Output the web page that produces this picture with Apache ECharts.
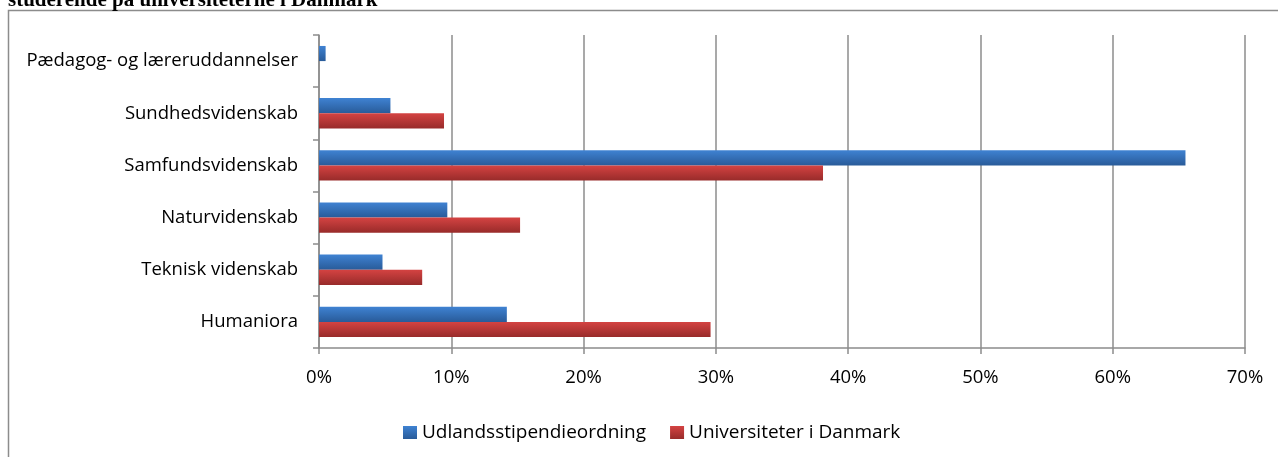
<!DOCTYPE html>
<html>
<head>
<meta charset="utf-8">
<script src="https://cdn.jsdelivr.net/npm/echarts@6/dist/echarts.min.js"></script>
<style>
  html, body { margin: 0; padding: 0; background: #fff; }
  #chart { width: 1278px; height: 457px; }
</style>
</head>
<body>
<div id="chart"></div>
<script>
// bottom-to-top order, like the reference
const categories = [
  "Humaniora",
  "Teknisk videnskab",
  "Naturvidenskab",
  "Samfundsvidenskab",
  "Sundhedsvidenskab",
  "Pædagog- og læreruddannelser"
];
const udland = [14.2, 4.8, 9.7, 65.5, 5.4, 0.5];
const danmark = [29.6, 7.8, 15.2, 38.1, 9.45, 0];
const xTicks = [0, 10, 20, 30, 40, 50, 60, 70];

const blueFill = new echarts.graphic.LinearGradient(0, 0, 0, 1, [
  { offset: 0, color: "#3f82d2" },
  { offset: 1, color: "#295b99" }
]);
const redFill = new echarts.graphic.LinearGradient(0, 0, 0, 1, [
  { offset: 0, color: "#d44342" },
  { offset: 1, color: "#982b2a" }
]);

const font = "Open Sans";
const fontSize = 18.5;
const gray = "#8c8c8c";

const chart = echarts.init(document.getElementById("chart"));
chart.setOption({
  animation: false,
  graphic: {
    elements: [
      {
        type: "rect",
        silent: true,
        shape: { x: 8.5, y: 10.5, width: 1400, height: 600 },
        style: { fill: "none", stroke: gray, lineWidth: 1.5 }
      },
      {
        type: "text",
        silent: true,
        style: {
          x: 8,
          y: 1,
          text: "studerende på universiteterne i Danmark",
          font: "bold 21px 'Liberation Serif'",
          fill: "#000",
          textVerticalAlign: "middle"
        }
      }
    ]
  },
  grid: { left: 319, right: 33, top: 35, bottom: 109 },
  legend: {
    data: ["Udlandsstipendieordning", "Universiteter i Danmark"],
    left: 398,
    top: 418,
    icon: "rect",
    itemWidth: 14,
    itemHeight: 13,
    itemGap: 24,
    textStyle: { fontFamily: font, fontSize: 19, color: "#000" }
  },
  xAxis: {
    type: "value",
    min: xTicks[0],
    max: xTicks[xTicks.length - 1],
    interval: 10,
    axisLine: { show: true, lineStyle: { color: gray, width: 1.5 } },
    axisTick: { show: true, length: 6, lineStyle: { color: gray, width: 1.5 } },
    splitLine: { show: true, lineStyle: { color: gray, width: 1.5 } },
    axisLabel: {
      formatter: "{value}%",
      margin: 20,
      fontFamily: font,
      fontSize: fontSize,
      color: "#000"
    }
  },
  yAxis: {
    type: "category",
    data: categories,
    axisLine: { show: true, lineStyle: { color: gray, width: 1.5 } },
    axisTick: { show: true, length: 6, lineStyle: { color: gray, width: 1.5 } },
    axisLabel: {
      margin: 21,
      padding: [4, 0, 0, 0],
      fontFamily: font,
      fontSize: fontSize,
      color: "#000"
    }
  },
  series: [
    {
      name: "Udlandsstipendieordning",
      type: "bar",
      data: udland,
      barGap: "0%",
      barCategoryGap: "42%",
      itemStyle: { color: blueFill }
    },
    {
      name: "Universiteter i Danmark",
      type: "bar",
      data: danmark,
      barGap: "0%",
      barCategoryGap: "42%",
      itemStyle: { color: redFill }
    }
  ]
});
</script>
</body>
</html>
